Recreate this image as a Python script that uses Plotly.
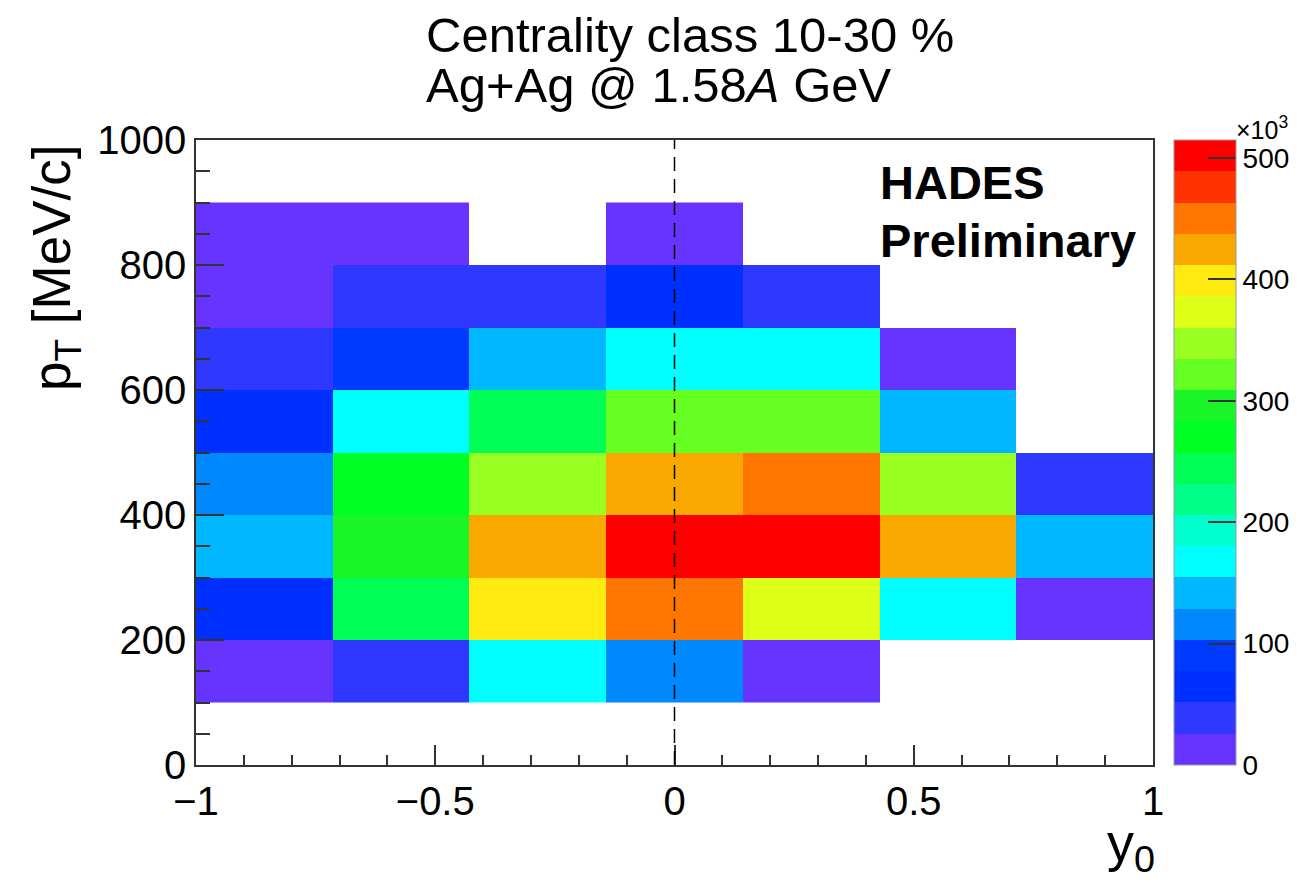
import plotly.graph_objects as go

# ---------------- data (values in units of 10^3) ----------------
y0_edges = [-1.0, -0.7142857, -0.4285714, -0.1428571, 0.1428571, 0.4285714, 0.7142857, 1.0]
pt_edges = [100, 200, 300, 400, 500, 600, 700, 800, 900]

# rows: pT bins 100-200 ... 800-900 ; columns: y0 bins from -1 to 1
row_100_200 = [12, 40, 170, 115, 15, None, None]
row_200_300 = [66, 245, 400, 455, 375, 168, 14]
row_300_400 = [140, 296, 430, 514.7, 505, 425, 143]
row_400_500 = [115, 272, 350, 428, 458, 347, 40]
row_500_600 = [66, 168, 248, 322, 325, 142, None]
row_600_700 = [40, 88, 145, 170, 172, 16, None]
row_700_800 = [18, 38, 42, 66, 40, None, None]
row_800_900 = [10, 12, None, 15, None, None, None]

z_values = [row_100_200, row_200_300, row_300_400, row_400_500,
            row_500_600, row_600_700, row_700_800, row_800_900]

z_max = 514.7
n_levels = 20
palette = ["#6633FF", "#2E38FF", "#0030FF", "#003AFF", "#0088FF",
           "#00B8FF", "#00FFFF", "#00FFCC", "#00FF88", "#00FF55",
           "#00FF22", "#1AF52A", "#66FF22", "#99FF22", "#DDFF18",
           "#FFEA10", "#F9A800", "#FF7700", "#FF3300", "#FF0000"]

x_ticks = [-1, -0.5, 0, 0.5, 1]
x_ticktext = ["\u22121", "\u22120.5", "0", "0.5", "1"]
y_ticks = [0, 200, 400, 600, 800, 1000]
cb_ticks = [0, 100, 200, 300, 400, 500]

# ---------------- figure ----------------
colorscale = []
for i, c in enumerate(palette):
    colorscale.append([i / n_levels, c])
    colorscale.append([(i + 1) / n_levels, c])

FONT = "Liberation Sans, Arial, Helvetica, sans-serif"
L, R, T, B = 196, 159, 140, 120
W, H = 1312, 885
PW, PH = W - L - R, H - T - B


def px_x(px):
    return (px - L) / PW


def px_y(py):
    return (H - B - py) / PH


fig = go.Figure()
fig.add_trace(go.Heatmap(
    x=y0_edges, y=pt_edges, z=z_values,
    zmin=0, zmax=z_max, colorscale=colorscale,
    hoverongaps=False,
    colorbar=dict(
        x=px_x(1174), xanchor="left", xpad=0,
        y=0.5, yanchor="middle", len=1, lenmode="fraction", ypad=0,
        thickness=62, outlinewidth=1, outlinecolor="#999999",
        tickmode="array", tickvals=cb_ticks, ticktext=[str(v) for v in cb_ticks],
        ticks="inside", ticklen=28, tickwidth=1.5, tickcolor="#333333",
        tickfont=dict(family=FONT, size=28, color="black"),
    ),
))

fig.add_shape(type="line", x0=0, x1=0, y0=0, y1=1000, xref="x", yref="y",
              line=dict(color="black", width=1.5, dash="14px,8px"))

axis_common = dict(showline=True, linecolor="#333333", linewidth=1.5, mirror=True,
                   ticks="inside", tickcolor="#333333", tickwidth=1.5,
                   showgrid=False, zeroline=False,
                   tickfont=dict(family=FONT, size=40, color="black"))

fig.update_xaxes(range=[-1, 1], tickmode="array", tickvals=x_ticks, ticktext=x_ticktext,
                 ticklen=20, minor=dict(dtick=0.1, tick0=0, ticklen=10, ticks="inside",
                                        tickcolor="#333333", tickwidth=1.5),
                 **axis_common)
fig.update_yaxes(range=[0, 1000], tickmode="array", tickvals=y_ticks,
                 ticklen=28, minor=dict(dtick=50, tick0=0, ticklen=14, ticks="inside",
                                        tickcolor="#333333", tickwidth=1.5),
                 **axis_common)

annotations = [
    dict(text="Centrality class 10-30 %", x=px_x(424), y=px_y(35), xanchor="left", yanchor="middle",
         font=dict(family=FONT, size=49, color="black")),
    dict(text="Ag+Ag @ 1.58<i>A</i> GeV", x=px_x(424), y=px_y(85), xanchor="left", yanchor="middle",
         font=dict(family=FONT, size=49, color="black")),
    dict(text="<b>HADES</b>", x=px_x(878), y=px_y(182), xanchor="left", yanchor="middle",
         font=dict(family=FONT, size=47, color="black")),
    dict(text="<b>Preliminary</b>", x=px_x(878), y=px_y(241), xanchor="left", yanchor="middle",
         font=dict(family=FONT, size=47, color="black")),
    dict(text="p<sub>T</sub> [MeV/c]", x=px_x(55), y=px_y(268), xanchor="center", yanchor="middle",
         textangle=-90, font=dict(family=FONT, size=53, color="black")),
    dict(text="y<sub>0</sub>", x=px_x(1157), y=px_y(846), xanchor="right", yanchor="middle",
         font=dict(family=FONT, size=54, color="black")),
    dict(text="\u00d710<sup>3</sup>", x=px_x(1234), y=px_y(128), xanchor="left", yanchor="middle",
         font=dict(family=FONT, size=25, color="black")),
]
for a in annotations:
    a.update(xref="paper", yref="paper", showarrow=False)

fig.update_layout(width=W, height=H, margin=dict(l=L, r=R, t=T, b=B, autoexpand=False),
                  paper_bgcolor="white", plot_bgcolor="white",
                  font=dict(family=FONT, color="black"),
                  annotations=annotations, showlegend=False)

fig.write_html("out.html")
